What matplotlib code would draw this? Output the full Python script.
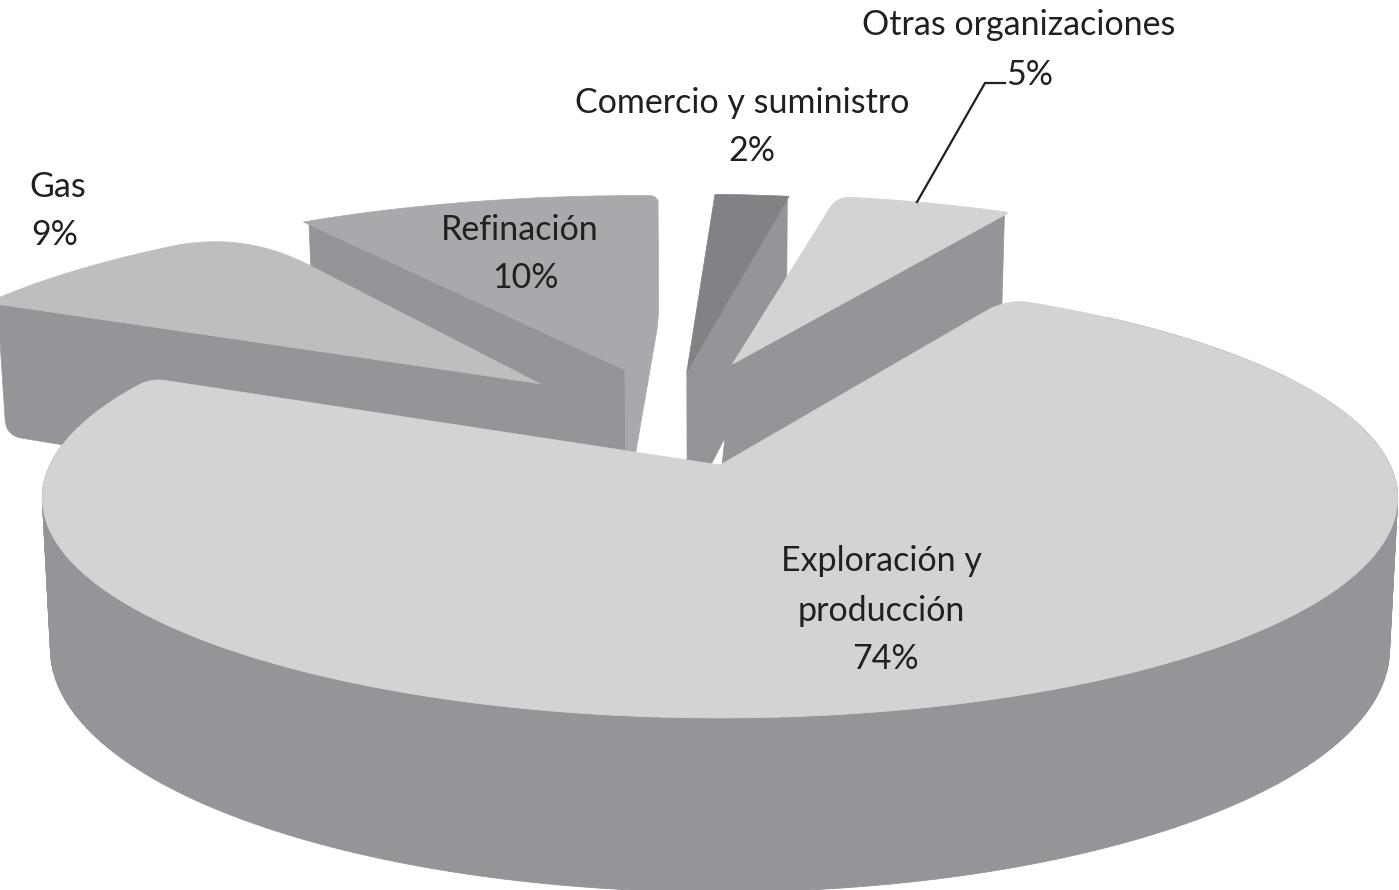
import numpy as np
import matplotlib
matplotlib.use("Agg")
import matplotlib.pyplot as plt
from matplotlib.collections import PolyCollection

etiquetas = ["Otras organizaciones", "Comercio y suministro", "Refinación", "Gas", "Exploración y\nproducción"]
valores = [5, 2, 10, 9, 74]

# rebanadas en sentido antihorario desde este angulo
ANGULO_INICIO = 61

# proyeccion del disco a pixeles
CX, CY = 720, 465
RX, RY = 670, 215
P = 0.15
ALTO = 148

# estilo de cada rebanada (mismo orden que valores)
separacion = [(0.02, 0.505), (-0.053, 0.463), (-0.152, 0.473), (-0.285, 0.401), (0, 0)]
radios = [1.05, 1.09, 1.07, 1.05, 1.0]
giro = [0.3, 1.5, 1.7, 0, 0]
sesgo = [14, 0, 0, 0, 0]
color_cara = ["#d1d3d4", "#808285", "#a7a9ac", "#bcbec0", "#d1d3d4"]
# paredes radiales visibles: (color lado inicial, color lado final)
paredes = [("#939598", None), ("#939598", None), ("#a7a9ac", "#939598"), (None, "#939598"), (None, None)]
color_pared_grande = "#939598"
redondeo_ini = [4, 0, 9, 70, 14]
redondeo_fin = [14, 0, 0, 0, 24]
orden_dibujo = [2, 3, 1, 0, 4]

# posicion de los textos: (x, y) de nombre y de porcentaje
pos_nombre = [(1019, 25), (742, 103), (520, 230), (58, 187), (881, 586)]
pos_valor = [(1030, 75), (752, 151), (525, 278), (55, 235), (885, 659)]


def proyectar(X, Y, z=0.0):
    s = 1 / (1 + P * Y)
    return np.column_stack([CX + RX * X * s * (1 - 0.012 * z), CY - RY * Y * s + ALTO * z * s])


def redondear(pts, esquina, r):
    # cambia una esquina del poligono por una curva de radio aproximado r
    if r <= 0:
        return pts
    k = np.argmin(((pts - esquina) ** 2).sum(axis=1))
    pts = np.roll(pts, -k, axis=0)
    c = pts[0]

    def caminar(seq):
        acum = 0
        prev = c
        for j, q in enumerate(seq):
            d = np.hypot(*(q - prev))
            if acum + d >= r:
                return prev + (q - prev) * (r - acum) / d, j
            acum += d
            prev = q
        return prev, len(seq) - 1

    a, ja = caminar(pts[1:])
    b, jb = caminar(pts[:0:-1])
    t = np.linspace(0, 1, 16)[:, None]
    curva = (1 - t) ** 2 * b + 2 * t * (1 - t) * c + t ** 2 * a
    resto = pts[1 + ja:len(pts) - jb]
    return np.vstack([curva, resto])


fig = plt.figure(figsize=(13.99, 8.90), dpi=100)
ax = fig.add_axes([0, 0, 1, 1])
ax.set_xlim(0, 1399)
ax.set_ylim(890, 0)
ax.axis("off")

fracciones = np.array(valores) / sum(valores) * 360
inicios = ANGULO_INICIO + np.concatenate([[0], np.cumsum(fracciones)[:-1]])

for i in orden_dibujo:
    ang = inicios[i] + giro[i]
    t = np.radians(np.linspace(ang, ang + fracciones[i], 240))
    ox, oy = separacion[i]
    ax_x = ox + radios[i] * np.cos(t)
    ax_y = oy + radios[i] * np.sin(t)
    centro = proyectar(np.array([ox]), np.array([oy]))
    arco = proyectar(ax_x, ax_y)
    cara = np.vstack([centro, arco])
    esquina_ini, esquina_fin = arco[0].copy(), arco[-1].copy()
    cara = redondear(cara, esquina_ini, redondeo_ini[i])
    cara = redondear(cara, esquina_fin, redondeo_fin[i])

    if i == len(valores) - 1:
        # pared exterior de la rebanada grande, tramo por tramo (sin las puntas)
        abajo = proyectar(ax_x, ax_y, 1.0)
        tramos = [[arco[j], arco[j + 1], abajo[j + 1], abajo[j]] for j in range(10, len(arco) - 11)]
        ax.add_collection(PolyCollection(tramos, facecolors=color_pared_grande, edgecolors=color_pared_grande, linewidths=0.6))

    # paredes radiales; recorto un poco para no salir de la esquina redonda
    for extremo, col in ((-1, paredes[i][1]), (0, paredes[i][0])):
        if col is None:
            continue
        ex = ox + 0.98 * (ax_x[extremo] - ox)
        ey = oy + 0.98 * (ax_y[extremo] - oy)
        px = np.linspace(ex, ox, 40)
        py = np.linspace(ey, oy, 40)
        arriba = proyectar(px, py)
        abajo = proyectar(px, py, 1.0)
        abajo[:, 0] -= sesgo[i] * np.linspace(0, 1, 40)
        pared = np.vstack([arriba, abajo[::-1]])
        pared = redondear(pared, abajo[0], 16)
        ax.fill(pared[:, 0], pared[:, 1], color=col, lw=0.5)

    ax.fill(cara[:, 0], cara[:, 1], color=color_cara[i], lw=0.5)

# linea guia de "Otras organizaciones"
ax.plot([917, 985, 1005], [202, 83, 83], color="#231f20", lw=1.6, solid_joinstyle="miter")

fuente = dict(family="Lato", fontsize=24.5, color="#231f20", ha="center", va="center", linespacing=1.7)
for i in range(len(valores)):
    ax.text(pos_nombre[i][0], pos_nombre[i][1], etiquetas[i], **fuente)
    ax.text(pos_valor[i][0], pos_valor[i][1], "{}%".format(valores[i]), **fuente)

fig.savefig("out.png", dpi=100, facecolor="white")
plt.close()
